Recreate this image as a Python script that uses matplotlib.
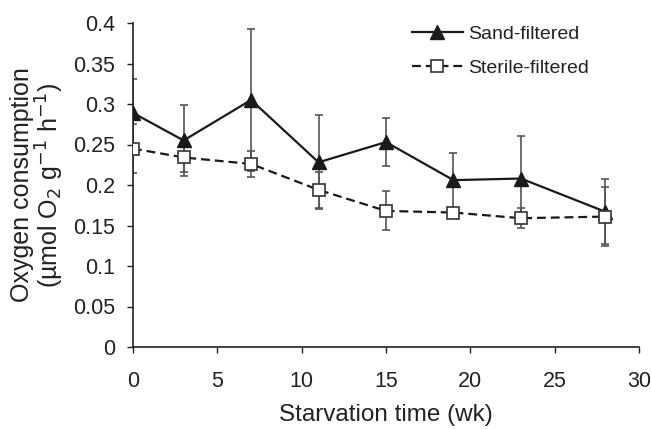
import matplotlib.pyplot as plt

plt.rcParams['font.family'] = ['Liberation Sans', 'DejaVu Sans']

weeks = [0, 3, 7, 11, 15, 19, 23, 28]
sand = [0.289, 0.255, 0.305, 0.228, 0.253, 0.206, 0.208, 0.167]
sand_err = [0.042, 0.044, 0.088, 0.058, 0.030, 0.034, 0.053, 0.040]
sterile = [0.245, 0.234, 0.226, 0.194, 0.168, 0.166, 0.159, 0.161]
sterile_err = [0.030, 0.018, 0.016, 0.022, 0.024, 0.004, 0.012, 0.036]

fig = plt.figure(figsize=(6.51, 4.29), dpi=100)
ax = fig.add_axes([133 / 651, 82 / 429, 506 / 651, 324 / 429])

ax.errorbar(weeks, sand, yerr=sand_err, fmt='none', ecolor='#555555',
            elinewidth=1.2, capsize=3, capthick=1.2, zorder=1)
ax.errorbar(weeks, sterile, yerr=sterile_err, fmt='none', ecolor='#555555',
            elinewidth=1.2, capsize=3, capthick=1.2, zorder=1)
ax.plot(weeks, sand, '-', color='#1a1a1a', lw=1.6, marker='^', ms=9.5,
        mfc='#1a1a1a', mec='#1a1a1a', label='Sand-filtered', zorder=3)
ax.plot(weeks, sterile, '--', color='#1a1a1a', lw=1.6, dashes=(4, 2.2),
        marker='s', ms=9, mfc='white', mec='#333333', mew=1.2,
        label='Sterile-filtered', zorder=3)

ax.set_xlim(0, 30)
ax.set_ylim(0, 0.4)
ax.set_xticks(range(0, 31, 5))
ax.set_yticks([0, 0.05, 0.1, 0.15, 0.2, 0.25, 0.3, 0.35, 0.4])
ax.set_yticklabels(['0', '0.05', '0.1', '0.15', '0.2', '0.25', '0.3', '0.35', '0.4'])
ax.tick_params(labelsize=15.5, direction='out', length=4, width=1, colors='#222222')
ax.tick_params(axis='y', pad=9)
ax.tick_params(axis='x', pad=13)
for s in ['top', 'right']:
    ax.spines[s].set_visible(False)
for s in ['left', 'bottom']:
    ax.spines[s].set_linewidth(1.2)
    ax.spines[s].set_color('#222222')

ax.set_xlabel('Starvation time (wk)', fontsize=17.5, color='#222222', labelpad=9)
ax.set_ylabel('Oxygen consumption\n(µmol O$_2$ g$^{-1}$ h$^{-1}$)', fontsize=18,
              color='#222222', labelpad=5, linespacing=1.0)

leg = ax.legend(loc='upper left', bbox_to_anchor=((412 - 133) / 506, 0.993),
                frameon=False, borderaxespad=0, borderpad=0,
                fontsize=14, handlelength=2.6, labelspacing=0.85, handletextpad=0.3)
for t in leg.get_texts():
    t.set_color('#222222')

fig.savefig('out.png', dpi=100)
